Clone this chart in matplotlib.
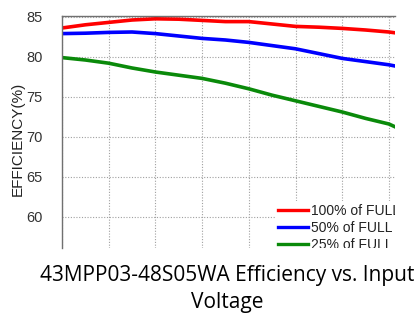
import numpy as np
import matplotlib.pyplot as plt

# --- Data (x in grid steps of the input-voltage axis) ---
vin = [0, 0.5, 1, 1.5, 2, 2.5, 3, 3.5, 4, 4.5, 5, 5.5, 6, 6.5, 7, 7.13]
eff_100 = [83.6, 84.0, 84.3, 84.6, 84.75, 84.7, 84.55, 84.4, 84.4, 84.1, 83.8, 83.7, 83.55, 83.35, 83.1, 83.0]
eff_50 = [82.9, 82.95, 83.05, 83.1, 82.9, 82.6, 82.3, 82.1, 81.8, 81.4, 81.0, 80.4, 79.8, 79.4, 79.0, 78.85]
eff_25 = [79.9, 79.6, 79.2, 78.6, 78.1, 77.7, 77.3, 76.7, 76.0, 75.2, 74.5, 73.8, 73.1, 72.3, 71.6, 71.25]

labels = ['100% of FULL LOAD', '50% of FULL LOAD', '25% of FULL LOAD']
yticks = [60, 65, 70, 75, 80, 85]

W, H = 416, 318
fig = plt.figure(figsize=(W / 100, H / 100), dpi=100)
ax = fig.add_axes([62 / W, (H - 248) / H, (395 - 62) / W, (248 - 16) / H])

ax.plot(vin, eff_100, color='#ff0000', lw=2.6, label=labels[0])
ax.plot(vin, eff_50, color='#0000ff', lw=2.6, label=labels[1])
ax.plot(vin, eff_25, color='#0a8a0a', lw=2.6, label=labels[2])

ax.set_xlim(0, 7.13)
ax.set_ylim(56.1, 85.1)
ax.set_xticks(np.arange(0, 8))
ax.set_yticks(yticks)
ax.tick_params(axis='x', length=0, labelbottom=False)
ax.tick_params(axis='y', length=0, pad=14, labelsize=10.5, labelcolor='#333333')
for lab in ax.get_yticklabels():
    lab.set_fontfamily('Liberation Sans')
ax.grid(True, color='#a0a0a0', linestyle=(0, (1, 1.5)), linewidth=0.8)

for side in ['right', 'bottom']:
    ax.spines[side].set_visible(False)
for side in ['left', 'top']:
    ax.spines[side].set_color('#707070')
    ax.spines[side].set_linewidth(1.0)

ax.set_ylabel('EFFICIENCY(%)', fontsize=11, family='Liberation Sans', color='#222222')
ax.yaxis.set_label_coords(-0.112, 0.47)

leg = ax.legend(loc='upper left', bbox_to_anchor=(275 / W, (H - 201) / H),
                bbox_transform=fig.transFigure, frameon=True, framealpha=1,
                edgecolor='none', facecolor='white', fancybox=False,
                prop={'family': 'Liberation Sans', 'size': 10},
                handlelength=2.2, handletextpad=0.2, labelspacing=0.22,
                borderpad=0.2, borderaxespad=0)
for line in leg.get_lines():
    line.set_linewidth(2.4)
    line.set_clip_box(ax.bbox)
    line.set_clip_on(True)
for t in leg.get_texts():
    t.set_color('#222222')
    t.set_clip_box(ax.bbox)
    t.set_clip_on(True)

fig.text(227 / W, 1 - 281 / H, '43MPP03-48S05WA Efficiency vs. Input',
         ha='center', va='baseline', fontsize=15, family='Open Sans')
fig.text(227 / W, 1 - 308 / H, 'Voltage',
         ha='center', va='baseline', fontsize=15, family='Open Sans')

fig.savefig('out.png', dpi=100)
